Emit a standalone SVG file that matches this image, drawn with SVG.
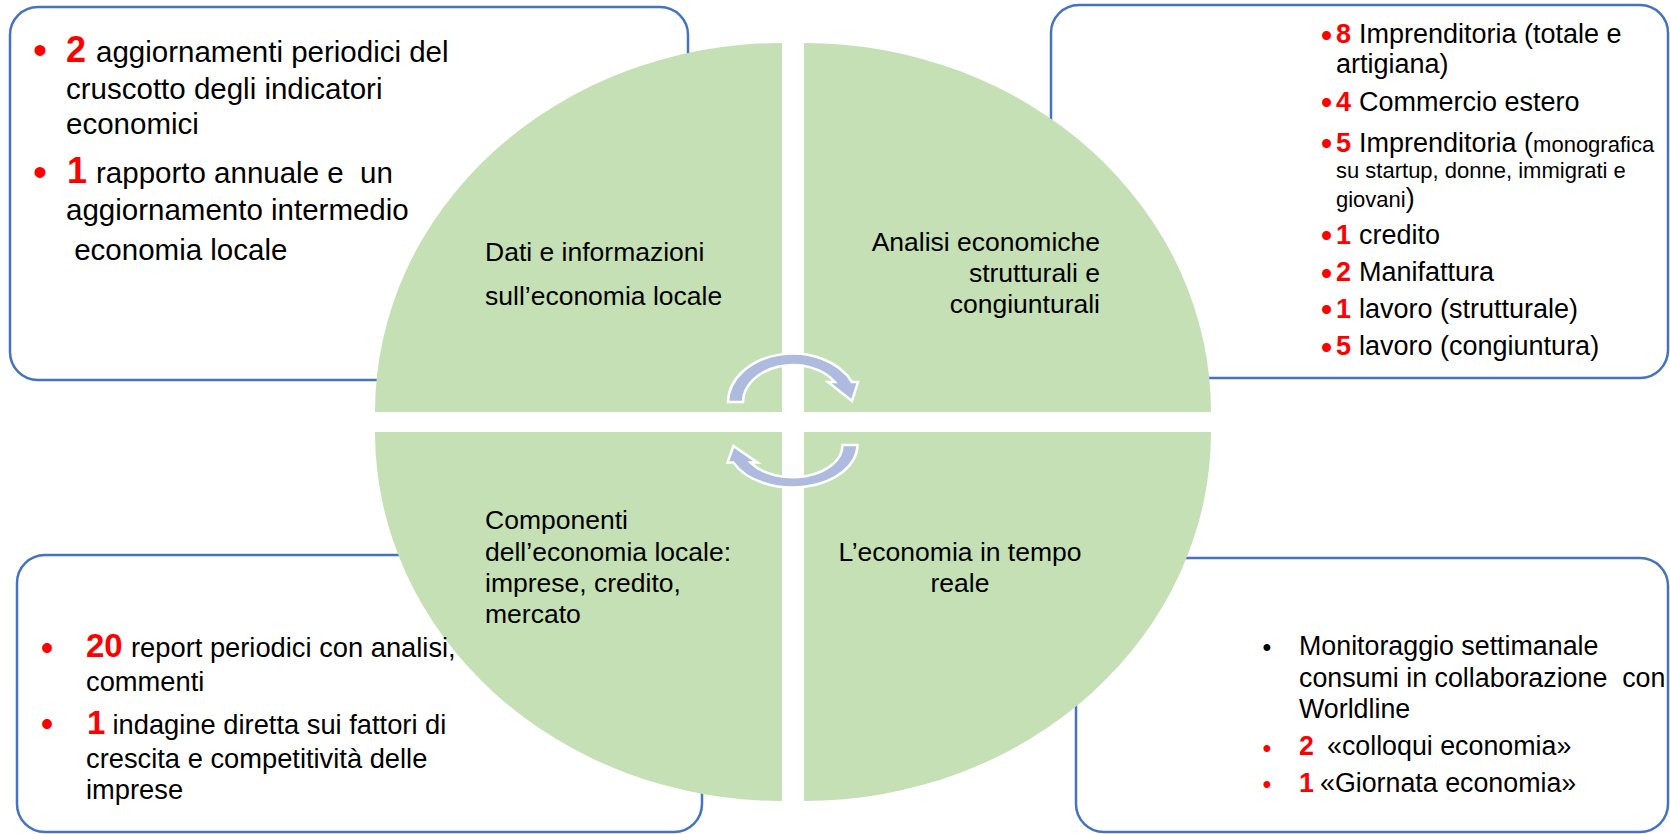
<svg xmlns="http://www.w3.org/2000/svg" width="1670" height="834" viewBox="0 0 1670 834">
<style>
text{font-family:"Liberation Sans",Arial,sans-serif;fill:#000;white-space:pre}
.box{fill:#fff;stroke:#4472C4;stroke-width:2.5}
.quad{fill:#C5E0B4}
.arr{fill:#AEBBDF;stroke:#fff;stroke-width:2.5;stroke-linejoin:miter}
.red{fill:#FF0000}
.b{font-weight:bold}
.bul{text-anchor:middle}
.tl{font-size:29.5px}
.tr{font-size:27px}
.sm{font-size:22px}
.bl{font-size:27.3px}
.br{font-size:26.8px}
.q{font-size:26.5px}
</style>
<rect width="1670" height="834" fill="#fff"/>
<g id="box-top-left"><rect class="box" x="10" y="7" width="678" height="373" rx="28"/></g>
<g id="box-top-right"><rect class="box" x="1051" y="5" width="617" height="373" rx="28"/></g>
<g id="box-bottom-left"><rect class="box" x="17" y="555" width="685" height="277" rx="28"/></g>
<g id="box-bottom-right"><rect class="box" x="1076" y="558" width="592" height="274" rx="28"/></g>

<g id="quad-dati"><path class="quad" d="M782,412 L375,412 A407,369 0 0 1 782,43 Z"/>
<text class="q" x="485" y="261">Dati e informazioni</text>
<text class="q" x="485" y="305">sull’economia locale</text></g>
<g id="quad-analisi"><path class="quad" d="M804,412 L804,43 A407,369 0 0 1 1211,412 Z"/>
<text class="q" x="1100" y="251" text-anchor="end">Analisi economiche</text>
<text class="q" x="1100" y="282" text-anchor="end">strutturali e</text>
<text class="q" x="1100" y="313" text-anchor="end">congiunturali</text></g>
<g id="quad-tempo"><path class="quad" d="M804,432 L1211,432 A407,369 0 0 1 804,801 Z"/>
<text class="q" x="960" y="561" text-anchor="middle">L’economia in tempo</text>
<text class="q" x="960" y="592" text-anchor="middle">reale</text></g>
<g id="quad-componenti"><path class="quad" d="M782,432 L782,801 A407,369 0 0 1 375,432 Z"/>
<text class="q" x="485" y="529">Componenti</text>
<text class="q" x="485" y="561">dell’economia locale:</text>
<text class="q" x="485" y="592">imprese, credito,</text>
<text class="q" x="485" y="623">mercato</text></g>

<g id="connectors">
<path class="arr" d="M728,402 A65,49 0 0 1 852,382 L858,382 L852,401 L828,382 L835,382 A50,37 0 0 0 743,402 Z"/>
<path class="arr" d="M857.5,445 A65,43 0 0 1 733.5,462.6 L727.5,462.6 L733.5,446 L757.5,462.6 L750.5,462.6 A50,32 0 0 0 842.5,445 Z"/>
</g>

<g id="text-top-left">
<text class="red bul" x="40" y="64.4" font-size="40">•</text>
<text class="red b" x="66" y="62" font-size="36">2</text>
<text class="tl" x="96" y="62">aggiornamenti periodici del</text>
<text class="tl" x="66" y="99">cruscotto degli indicatori</text>
<text class="tl" x="66" y="134">economici</text>
<text class="red bul" x="40" y="186.1" font-size="40">•</text>
<text class="red b" x="67" y="182.5" font-size="36">1</text>
<text class="tl" x="96" y="182.5">rapporto annuale e  un</text>
<text class="tl" x="66" y="220">aggiornamento intermedio</text>
<text class="tl" x="66" y="260"> economia locale</text>
</g>

<g id="text-top-right">
<text class="red bul" x="1326.5" y="46.9" font-size="33">•</text>
<text class="tr red b" x="1336" y="43">8</text>
<text class="tr" x="1359" y="43">Imprenditoria (totale e</text>
<text class="tr" x="1336" y="73">artigiana)</text>
<text class="red bul" x="1326.5" y="113.6" font-size="33">•</text>
<text class="tr red b" x="1336" y="111">4</text>
<text class="tr" x="1359" y="111">Commercio estero</text>
<text class="red bul" x="1326.5" y="154.6" font-size="33">•</text>
<text class="tr red b" x="1336" y="151.5">5</text>
<text class="tr" x="1359" y="151.5">Imprenditoria (<tspan class="sm">monografica</tspan></text>
<text class="sm" x="1336" y="178.3">su startup, donne, immigrati e</text>
<text class="sm" x="1336" y="206.7">giovani<tspan class="tr">)</tspan></text>
<text class="red bul" x="1326.5" y="246.9" font-size="33">•</text>
<text class="tr red b" x="1336" y="244.3">1</text>
<text class="tr" x="1359" y="244.3">credito</text>
<text class="red bul" x="1326.5" y="284.6" font-size="33">•</text>
<text class="tr red b" x="1336" y="281">2</text>
<text class="tr" x="1359" y="281">Manifattura</text>
<text class="red bul" x="1326.5" y="321.2" font-size="33">•</text>
<text class="tr red b" x="1336" y="317.7">1</text>
<text class="tr" x="1359" y="317.7">lavoro (strutturale)</text>
<text class="red bul" x="1326.5" y="358.6" font-size="33">•</text>
<text class="tr red b" x="1336" y="355">5</text>
<text class="tr" x="1359" y="355">lavoro (congiuntura)</text>
</g>

<g id="text-bottom-left">
<text class="red bul" x="47" y="659.7" font-size="36">•</text>
<text class="red b" x="86" y="657" font-size="33">20</text>
<text class="bl" x="131" y="657">report periodici con analisi,</text>
<text class="bl" x="86" y="690.7">commenti</text>
<text class="red bul" x="47" y="736.3" font-size="36">•</text>
<text class="red b" x="87" y="734.3" font-size="33">1</text>
<text class="bl" x="112.5" y="734.3">indagine diretta sui fattori di</text>
<text class="bl" x="86" y="768.3">crescita e competitività delle</text>
<text class="bl" x="86" y="799.3">imprese</text>
</g>

<g id="text-bottom-right">
<text class="bul" x="1267" y="655.7" font-size="25">•</text>
<text class="br" x="1299" y="655">Monitoraggio settimanale</text>
<text class="br" x="1299" y="686.5">consumi in collaborazione  con</text>
<text class="br" x="1299" y="718">Worldline</text>
<text class="red bul" x="1267" y="757.3" font-size="25">•</text>
<text class="br red b" x="1299" y="755">2</text>
<text class="br" x="1327" y="755">«colloqui economia»</text>
<text class="red bul" x="1267" y="793.3" font-size="25">•</text>
<text class="br red b" x="1299" y="791.7">1</text>
<text class="br" x="1320" y="791.7">«Giornata economia»</text>
</g>
</svg>
